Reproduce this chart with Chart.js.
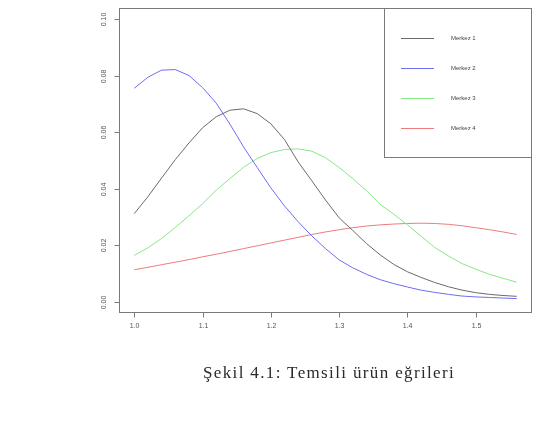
<!DOCTYPE html>
<html>
<head>
<meta charset="utf-8">
<script src="https://cdn.jsdelivr.net/npm/chart.js@4.4.1/dist/chart.umd.min.js"></script>
<style>
  html, body { margin: 0; padding: 0; background: #ffffff; }
  #wrap { position: relative; width: 541px; height: 429px; overflow: hidden; }
  #c { position: absolute; left: 0; top: 0; }
  #captxt { position: absolute; left: 203px; top: 364px;
    font-family: "Liberation Serif", "DejaVu Serif", serif; font-size: 17px; line-height: 1; color: #2a2a2a; white-space: nowrap; }
</style>
</head>
<body>
<div id="wrap">
  <canvas id="c" width="541" height="429"></canvas>
  <span id="captxt">Şekil 4.1: Temsili ürün eğrileri</span>
</div>
<script>
// ---- data ----
const xValues = [1.00,1.02,1.04,1.06,1.08,1.10,1.12,1.14,1.16,1.18,1.20,1.22,1.24,1.26,1.28,1.30,1.32,1.34,1.36,1.38,1.40,1.42,1.44,1.46,1.48,1.50,1.52,1.54,1.56];
const merkez1 = [0.0312,0.0372,0.0438,0.0503,0.0562,0.0616,0.0655,0.0678,0.0683,0.0666,0.0630,0.0574,0.0495,0.0428,0.0360,0.0297,0.0252,0.0206,0.0166,0.0132,0.0106,0.0086,0.0068,0.0053,0.0041,0.0032,0.0026,0.0022,0.0019];
const merkez2 = [0.0756,0.0795,0.0820,0.0822,0.0801,0.0758,0.0703,0.0629,0.0548,0.0475,0.0403,0.0339,0.0283,0.0233,0.0188,0.0148,0.0120,0.0097,0.0078,0.0064,0.0052,0.0041,0.0033,0.0026,0.0020,0.0017,0.0015,0.0013,0.0011];
const merkez3 = [0.0164,0.0191,0.0224,0.0263,0.0304,0.0347,0.0395,0.0436,0.0476,0.0507,0.0528,0.0539,0.0541,0.0533,0.0510,0.0475,0.0436,0.0393,0.0345,0.0310,0.0272,0.0232,0.0192,0.0162,0.0135,0.0115,0.0097,0.0083,0.0069];
const merkez4 = [0.0113,0.0122,0.0131,0.0140,0.0149,0.0159,0.0168,0.0178,0.0188,0.0198,0.0208,0.0218,0.0228,0.0238,0.0247,0.0255,0.0262,0.0268,0.0272,0.0275,0.0277,0.0278,0.0277,0.0274,0.0269,0.0262,0.0255,0.0247,0.0238];
const seriesNames = ["Merkez 1","Merkez 2","Merkez 3","Merkez 4"];
const xTickValues = [1.0,1.1,1.2,1.3,1.4,1.5];
const xTickLabels = ["1.0","1.1","1.2","1.3","1.4","1.5"];
const yTickValues = [0.00,0.02,0.04,0.06,0.08,0.10];
const yTickLabels = ["0.00","0.02","0.04","0.06","0.08","0.10"];

const colors = ["#6a6a6a","#6e6ef2","#86e886","#ee7c7c"];
const allSeries = [merkez1, merkez2, merkez3, merkez4];

const datasets = allSeries.map((s, i) => ({
  label: seriesNames[i],
  data: s.map((v, j) => ({ x: xValues[j], y: v })),
  borderColor: colors[i],
  backgroundColor: colors[i],
  borderWidth: 1,
  pointRadius: 0,
  tension: 0,
  fill: false
}));

const rAxes = {
  id: 'rAxes',
  afterDraw(chart) {
    const ctx = chart.ctx;
    const a = chart.chartArea;
    const xs = chart.scales.x, ys = chart.scales.y;
    ctx.save();
    // box
    ctx.strokeStyle = '#7a7a7a';
    ctx.lineWidth = 1;
    ctx.strokeRect(Math.round(a.left) + 0.5, Math.round(a.top) + 0.5,
                   Math.round(a.right - a.left) - 1, Math.round(a.bottom - a.top) - 1);
    // x axis ticks
    ctx.fillStyle = '#555';
    ctx.font = '7px "Liberation Sans", Arial, sans-serif';
    ctx.textAlign = 'center';
    ctx.textBaseline = 'middle';
    ctx.beginPath();
    const bx = Math.round(a.bottom) - 0.5;
    xTickValues.forEach((v, i) => {
      const px = Math.round(xs.getPixelForValue(v)) + 0.5;
      ctx.moveTo(px, bx);
      ctx.lineTo(px, bx + 5);
      ctx.fillText(xTickLabels[i], px, bx + 14);
    });
    // y axis ticks
    const lx = Math.round(a.left) + 0.5;
    yTickValues.forEach((v, i) => {
      const py = Math.round(ys.getPixelForValue(v)) + 0.5;
      ctx.moveTo(lx, py);
      ctx.lineTo(lx - 5, py);
      ctx.save();
      ctx.translate(lx - 15, py);
      ctx.rotate(-Math.PI / 2);
      ctx.fillText(yTickLabels[i], 0, 0);
      ctx.restore();
    });
    ctx.stroke();
    // legend box (top right, inset 0)
    const lw = 148, lh = 149;
    const L = Math.round(a.right) - lw, T = Math.round(a.top);
    ctx.strokeStyle = '#7a7a7a';
    ctx.strokeRect(L + 0.5, T + 0.5, lw - 1, lh);
    ctx.font = '6px "Liberation Sans", Arial, sans-serif';
    ctx.textAlign = 'left';
    ctx.fillStyle = '#444';
    seriesNames.forEach((n, i) => {
      const y = T + 30 + i * 30 + 0.5;
      ctx.strokeStyle = colors[i];
      ctx.beginPath();
      ctx.moveTo(L + 17, y);
      ctx.lineTo(L + 50, y);
      ctx.stroke();
      ctx.fillText(n, L + 67, y);
    });
    ctx.restore();
  }
};

new Chart(document.getElementById('c'), {
  type: 'line',
  data: { datasets },
  options: {
    responsive: false,
    animation: false,
    devicePixelRatio: 1,
    layout: { padding: { left: 119, top: 8, right: 9, bottom: 116 } },
    plugins: { legend: { display: false }, tooltip: { enabled: false } },
    scales: {
      x: { type: 'linear', min: 0.9776, max: 1.5824, display: false },
      y: { type: 'linear', min: -0.004, max: 0.104, display: false }
    }
  },
  plugins: [rAxes]
});

// stretch the caption to the reference width (252 px) with letter spacing
(function () {
  const t = document.getElementById('captxt');
  const target = 252;
  const w = t.getBoundingClientRect().width;
  const n = t.textContent.length;
  t.style.letterSpacing = Math.max(0, (target - w) / n).toFixed(2) + 'px';
})();
</script>
</body>
</html>
